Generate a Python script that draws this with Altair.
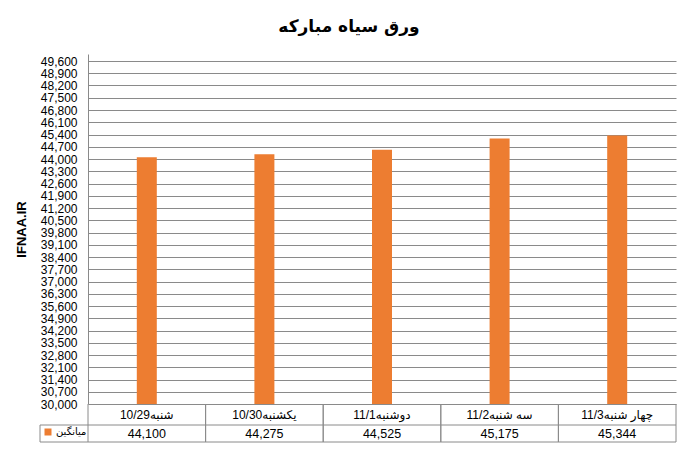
import altair as alt
import pandas as pd

# ---- data ----
categories = ["شنبه10/29", "یکشنبه10/30", "دوشنبه11/1", "سه شنبه11/2", "چهار شنبه11/3"]
values = [44100, 44275, 44525, 45175, 45344]
series_name = "میانگین"
y_ticks = list(range(30000, 49601, 700))
title_text = "ورق سیاه مبارکه"
y_title = "IFNAA.IR"

df = pd.DataFrame({
    "cat": categories,
    "value": values,
    "series": [series_name] * len(categories),
    "label": [f"{v:,}" for v in values],
})
one = pd.DataFrame({"k": [0]})

W, H = 588, 350
ROW2, BOT = 371, 388
GRAY = "#8a8a8a"
LAT = "Liberation Sans, Arial, DejaVu Sans, sans-serif"

xs = alt.Scale(domain=categories, paddingInner=0, paddingOuter=0)
x = alt.X("cat:N", sort=categories, scale=xs, axis=None)

base = alt.Chart(df)

bars = base.mark_bar(size=20, color="#ED7D31", clip=True).encode(
    x=x,
    y=alt.Y(
        "value:Q",
        scale=alt.Scale(domain=[30000, 50000], zero=False, nice=False),
        axis=alt.Axis(
            values=y_ticks, format=",.0f", title=y_title,
            titleFont=LAT, titleFontSize=13, titleFontWeight="bold", titleColor="black",
            titleAngle=-90, titleX=-60, titleY=175, titleBaseline="bottom", titleAlign="center",
            labelFont=LAT, labelFontSize=12, labelColor="black", labelPadding=11,
            labelOverlap=False, ticks=False, tickSize=0,
            domainColor=GRAY, grid=True, gridColor=GRAY, gridWidth=1,
        ),
    ),
    color=alt.Color(
        "series:N",
        scale=alt.Scale(range=["#ED7D31"]),
        legend=alt.Legend(
            title=None, orient="none", legendX=-45, legendY=373,
            symbolType="square", symbolSize=49, symbolStrokeWidth=0,
            labelFont="DejaVu Sans", labelFontSize=10, labelColor="black",
            labelOffset=3, padding=0,
        ),
    ),
)

cat_text = base.mark_text(font=LAT, fontSize=12, color="black", baseline="middle").encode(
    x=x, y=alt.value(361), text="cat:N"
)
val_text = base.mark_text(font=LAT, fontSize=12.5, color="black", baseline="middle").encode(
    x=x, y=alt.value(380), text="label:N"
)

vl0 = base.mark_rule(color=GRAY, strokeWidth=1).encode(
    x=alt.X("cat:N", sort=categories, scale=xs, axis=None, bandPosition=0),
    y=alt.value(H), y2=alt.value(BOT),
)
vl1 = base.mark_rule(color=GRAY, strokeWidth=1).encode(
    x=alt.X("cat:N", sort=categories, scale=xs, axis=None, bandPosition=1),
    y=alt.value(H), y2=alt.value(BOT),
)
h2 = alt.Chart(one).mark_rule(color=GRAY, strokeWidth=1).encode(
    x=alt.value(-48), x2=alt.value(W), y=alt.value(ROW2)
)
h3 = alt.Chart(one).mark_rule(color=GRAY, strokeWidth=1).encode(
    x=alt.value(-48), x2=alt.value(W), y=alt.value(BOT)
)
vleg = alt.Chart(one).mark_rule(color=GRAY, strokeWidth=1).encode(
    x=alt.value(-48), y=alt.value(ROW2), y2=alt.value(BOT)
)

chart = alt.layer(bars, vl0, vl1, h2, h3, vleg, cat_text, val_text).properties(
    width=W, height=H,
    title=alt.TitleParams(
        title_text, font="DejaVu Sans", fontSize=17, fontWeight="bold", color="black",
        anchor="middle", baseline="alphabetic", offset=5, dx=-33,
    ),
    autosize=alt.AutoSizeParams(type="none"),
    padding={"left": 80, "top": 46, "right": 5, "bottom": 40},
    background="white",
).configure_view(stroke=None)

chart.save("out.html", embed_options={"renderer": "svg", "actions": False})
